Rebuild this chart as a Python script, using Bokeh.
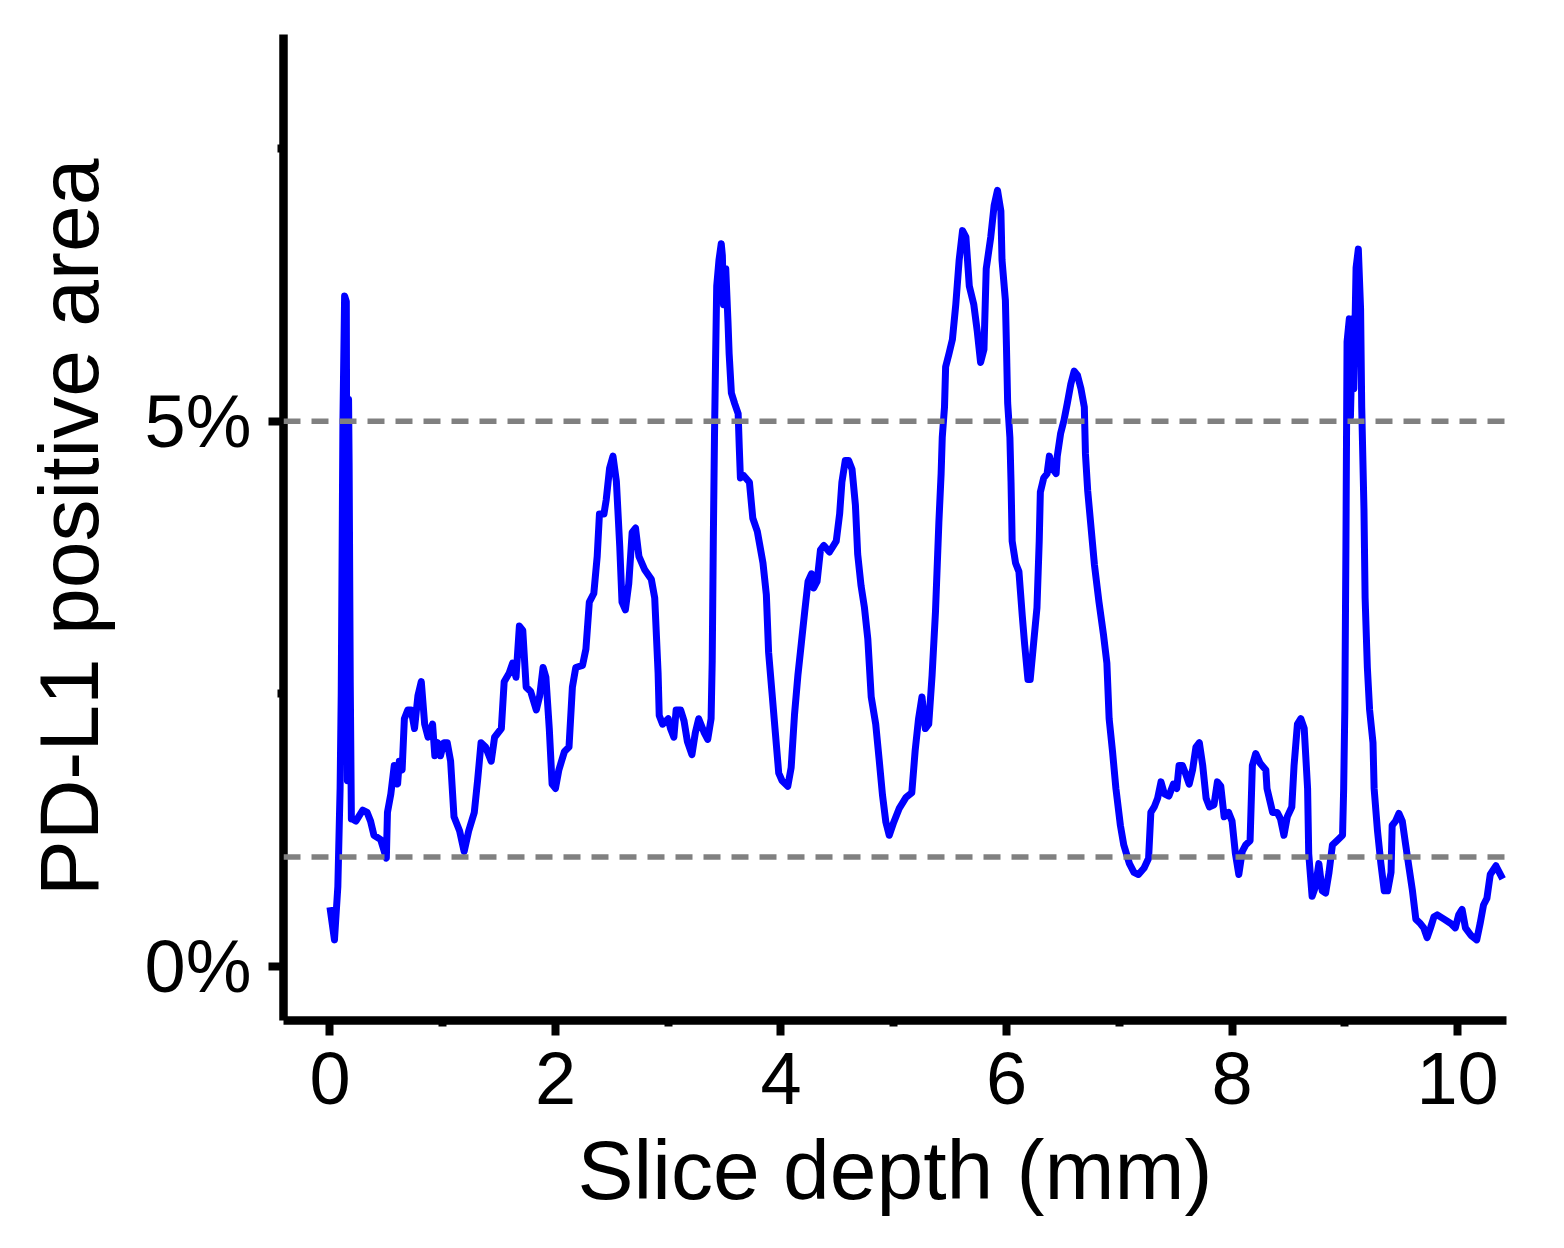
from bokeh.plotting import figure
from bokeh.models import FixedTicker, Span, Range1d
from bokeh.embed import file_html
from bokeh.resources import INLINE

# ---- data (slice depth in mm, PD-L1 positive area in %) ----
depth_a = [0.00, 0.04, 0.07, 0.09, 0.10, 0.115, 0.13, 0.145, 0.15, 0.155, 0.16, 0.165, 0.17, 0.18, 0.19,
           0.20, 0.23, 0.29, 0.33, 0.36, 0.39, 0.45, 0.50, 0.51, 0.54, 0.57, 0.60, 0.615, 0.64, 0.66,
           0.69, 0.72, 0.75, 0.78, 0.81, 0.84, 0.87, 0.91, 0.93, 0.955, 0.98, 1.01, 1.04, 1.07, 1.10,
           1.15, 1.19, 1.23, 1.28, 1.31, 1.34, 1.38, 1.43, 1.46, 1.52, 1.545, 1.59, 1.62, 1.65, 1.68,
           1.71, 1.74, 1.78, 1.83, 1.86, 1.89, 1.915, 1.945, 1.97, 2.00, 2.03, 2.08, 2.12, 2.15, 2.18,
           2.24, 2.27, 2.30, 2.34, 2.37, 2.39, 2.43, 2.45, 2.48, 2.51, 2.54, 2.57, 2.59, 2.62, 2.65,
           2.68, 2.71, 2.74, 2.79, 2.85, 2.88, 2.91, 2.92, 2.95, 3.00, 3.02, 3.05, 3.07, 3.11]
area_a = [0.54, 0.24, 0.73, 1.63, 2.50, 5.00, 6.15, 6.10, 4.00, 1.70, 2.60, 5.20, 4.60, 2.60, 1.35,
          1.35, 1.33, 1.43, 1.41, 1.33, 1.20, 1.16, 0.99, 1.41, 1.58, 1.84, 1.67, 1.88, 1.80, 2.27,
          2.35, 2.35, 2.18, 2.48, 2.61, 2.22, 2.10, 2.22, 1.93, 2.05, 1.93, 2.05, 2.05, 1.88, 1.37,
          1.24, 1.05, 1.24, 1.41, 1.71, 2.05, 2.01, 1.88, 2.10, 2.18, 2.61, 2.69, 2.78, 2.65, 3.12,
          3.08, 2.56, 2.52, 2.35, 2.48, 2.74, 2.65, 2.18, 1.67, 1.63, 1.80, 1.97, 2.01, 2.56, 2.74,
          2.76, 2.91, 3.34, 3.42, 3.76, 4.15, 4.15, 4.28, 4.57, 4.68, 4.45, 3.85, 3.34, 3.27, 3.51,
          3.98, 4.02, 3.76, 3.64, 3.55, 3.38, 2.69, 2.30, 2.22, 2.27, 2.18, 2.10, 2.35, 2.35]

depth_b = [3.14, 3.17, 3.21, 3.24, 3.27, 3.32, 3.35, 3.38, 3.39, 3.40, 3.41, 3.42, 3.43, 3.45, 3.47,
           3.48, 3.49, 3.51, 3.53, 3.54, 3.56, 3.59, 3.62, 3.63, 3.64, 3.67, 3.72, 3.75, 3.79, 3.84,
           3.87, 3.89, 3.92, 3.95, 3.98, 4.01, 4.06, 4.09, 4.12, 4.15, 4.18, 4.21, 4.24, 4.27, 4.29,
           4.32, 4.35, 4.38, 4.43, 4.49, 4.52, 4.54, 4.57, 4.60, 4.63, 4.66, 4.68, 4.71, 4.74, 4.77,
           4.80, 4.84, 4.87, 4.90, 4.93, 4.96, 5.00, 5.05, 5.11, 5.16, 5.19, 5.22, 5.25, 5.28, 5.31,
           5.34, 5.37, 5.40, 5.42, 5.43, 5.45, 5.46, 5.49, 5.52, 5.55, 5.58, 5.61, 5.64, 5.67, 5.71,
           5.74, 5.77, 5.80, 5.82, 5.86, 5.89, 5.92, 5.95, 5.96, 5.99, 6.00, 6.01, 6.03, 6.04, 6.05,
           6.08, 6.11, 6.14, 6.16, 6.19, 6.21, 6.24, 6.27, 6.29, 6.30, 6.33, 6.36, 6.38, 6.41, 6.44,
           6.45, 6.48, 6.51, 6.54, 6.57, 6.60, 6.63, 6.66]
area_b = [2.25, 2.06, 1.94, 2.14, 2.27, 2.14, 2.08, 2.27, 2.80, 3.94, 4.85, 5.58, 6.24, 6.48, 6.63,
          6.52, 6.07, 6.40, 5.91, 5.62, 5.26, 5.16, 5.07, 4.76, 4.48, 4.50, 4.44, 4.11, 3.99, 3.70,
          3.41, 2.88, 2.51, 2.14, 1.77, 1.70, 1.65, 1.82, 2.31, 2.67, 2.96, 3.25, 3.53, 3.60, 3.47,
          3.53, 3.82, 3.86, 3.80, 3.90, 4.15, 4.44, 4.64, 4.64, 4.56, 4.23, 3.78, 3.49, 3.29, 3.00,
          2.47, 2.22, 1.90, 1.57, 1.32, 1.20, 1.32, 1.45, 1.55, 1.59, 1.98, 2.27, 2.47, 2.18, 2.22,
          2.67, 3.25, 4.07, 4.52, 4.85, 5.13, 5.50, 5.62, 5.75, 6.07, 6.48, 6.75, 6.69, 6.24, 6.07,
          5.83, 5.54, 5.66, 6.40, 6.69, 6.98, 7.12, 6.93, 6.48, 6.11, 5.66, 5.17, 4.85, 4.44, 3.90,
          3.70, 3.62, 3.21, 2.96, 2.63, 2.63, 2.96, 3.29, 3.90, 4.35, 4.48, 4.52, 4.68, 4.56, 4.52,
          4.68, 4.89, 5.01, 5.17, 5.34, 5.46, 5.42, 5.30]

depth_c = [6.69, 6.70, 6.72, 6.75, 6.78, 6.82, 6.86, 6.89, 6.91, 6.94, 6.97, 7.01, 7.04, 7.09, 7.13,
           7.17, 7.22, 7.26, 7.28, 7.31, 7.34, 7.37, 7.40, 7.44, 7.48, 7.51, 7.53, 7.56, 7.59, 7.62,
           7.65, 7.68, 7.71, 7.74, 7.77, 7.80, 7.84, 7.87, 7.90, 7.93, 7.97, 8.00, 8.03, 8.06, 8.09,
           8.12, 8.16, 8.18, 8.21, 8.25, 8.30, 8.31, 8.36, 8.40, 8.43, 8.46, 8.49, 8.53, 8.55, 8.58,
           8.61, 8.64, 8.67, 8.68, 8.71, 8.74, 8.77, 8.80, 8.83, 8.86, 8.89, 8.93, 8.98, 8.99, 9.00,
           9.01, 9.02, 9.04, 9.05, 9.07, 9.08, 9.10, 9.12, 9.14, 9.15, 9.17, 9.18, 9.20, 9.22, 9.25,
           9.26, 9.29, 9.32, 9.35, 9.38, 9.41, 9.42, 9.45, 9.48, 9.51, 9.54, 9.57, 9.60, 9.63, 9.67,
           9.70, 9.73, 9.76, 9.79, 9.82, 9.88, 9.94, 9.98, 10.01, 10.04, 10.07, 10.12, 10.17, 10.20, 10.23,
           10.26, 10.29, 10.34, 10.37, 10.40]
area_c = [5.13, 4.70, 4.36, 4.02, 3.68, 3.34, 3.04, 2.78, 2.27, 1.97, 1.63, 1.29, 1.11, 0.94, 0.86,
          0.84, 0.90, 0.99, 1.41, 1.46, 1.54, 1.69, 1.58, 1.56, 1.67, 1.63, 1.84, 1.84, 1.76, 1.67,
          1.80, 2.01, 2.05, 1.84, 1.54, 1.46, 1.48, 1.69, 1.65, 1.37, 1.41, 1.33, 1.03, 0.84, 1.05,
          1.11, 1.15, 1.84, 1.95, 1.86, 1.80, 1.63, 1.41, 1.41, 1.35, 1.20, 1.37, 1.46, 1.84, 2.22,
          2.27, 2.18, 1.63, 1.03, 0.64, 0.73, 0.94, 0.69, 0.67, 0.86, 1.11, 1.15, 1.20, 1.63, 2.35,
          3.85, 5.73, 5.94, 5.04, 5.94, 5.30, 6.41, 6.58, 6.03, 5.13, 4.19, 3.38, 2.74, 2.35, 2.05,
          1.63, 1.24, 0.94, 0.69, 0.69, 0.86, 1.29, 1.33, 1.40, 1.33, 1.11, 0.90, 0.69, 0.43, 0.39,
          0.35, 0.26, 0.35, 0.45, 0.47, 0.43, 0.39, 0.35, 0.47, 0.52, 0.35, 0.28, 0.24, 0.39, 0.56,
          0.62, 0.84, 0.92, 0.86, 0.80]

thresholds = [1, 5]
x_ticks = [0, 2, 4, 6, 8, 10]
x_minor = [1, 3, 5, 7, 9]
y_ticks = [0, 5]
y_minor = [2.5, 7.5]
y_labels = {0: "0%", 5: "5%"}

depth = depth_a + depth_b + depth_c
area = area_a + area_b + area_c

FONT = "Liberation Sans"

p = figure(width=1548, height=1240, output_backend="svg", toolbar_location=None,
           x_range=Range1d(-0.412, 10.434), y_range=Range1d(-0.5, 8.55),
           min_border_left=283, min_border_right=42, min_border_top=34, min_border_bottom=220)
p.outline_line_color = None
p.xgrid.grid_line_color = None
p.ygrid.grid_line_color = None
p.background_fill_color = "white"
p.border_fill_color = "white"

p.line(depth, area, line_color="#0000FF", line_width=7, line_join="round")

for t in thresholds:
    p.add_layout(Span(location=t, dimension="width", line_color="#808080",
                      line_width=5.5, line_dash="17 11"))

p.xaxis.ticker = FixedTicker(ticks=x_ticks, minor_ticks=x_minor)
p.yaxis.ticker = FixedTicker(ticks=y_ticks, minor_ticks=y_minor)
p.yaxis.major_label_overrides = y_labels
p.xaxis.axis_label = "Slice depth (mm)"
p.yaxis.axis_label = "PD-L1 positive area"

for ax in (p.xaxis, p.yaxis):
    ax.axis_line_color = "black"
    ax.axis_line_width = 8.5
    ax.major_tick_line_color = "black"
    ax.major_tick_line_width = 8
    ax.minor_tick_line_color = "black"
    ax.minor_tick_line_width = 8
    ax.major_tick_out = 15
    ax.major_tick_in = 0
    ax.minor_tick_out = 6
    ax.minor_tick_in = 0
    ax.major_label_text_font = FONT
    ax.major_label_text_font_size = "74px"
    ax.major_label_text_color = "black"
    ax.axis_label_text_font = FONT
    ax.axis_label_text_font_size = "84px"
    ax.axis_label_text_font_style = "normal"
    ax.axis_label_text_color = "black"

p.xaxis.major_label_standoff = 17
p.xaxis.axis_label_standoff = 16
p.yaxis.major_label_standoff = 17
p.yaxis.axis_label_standoff = 26

open("out.html", "w").write(file_html(p, INLINE))
